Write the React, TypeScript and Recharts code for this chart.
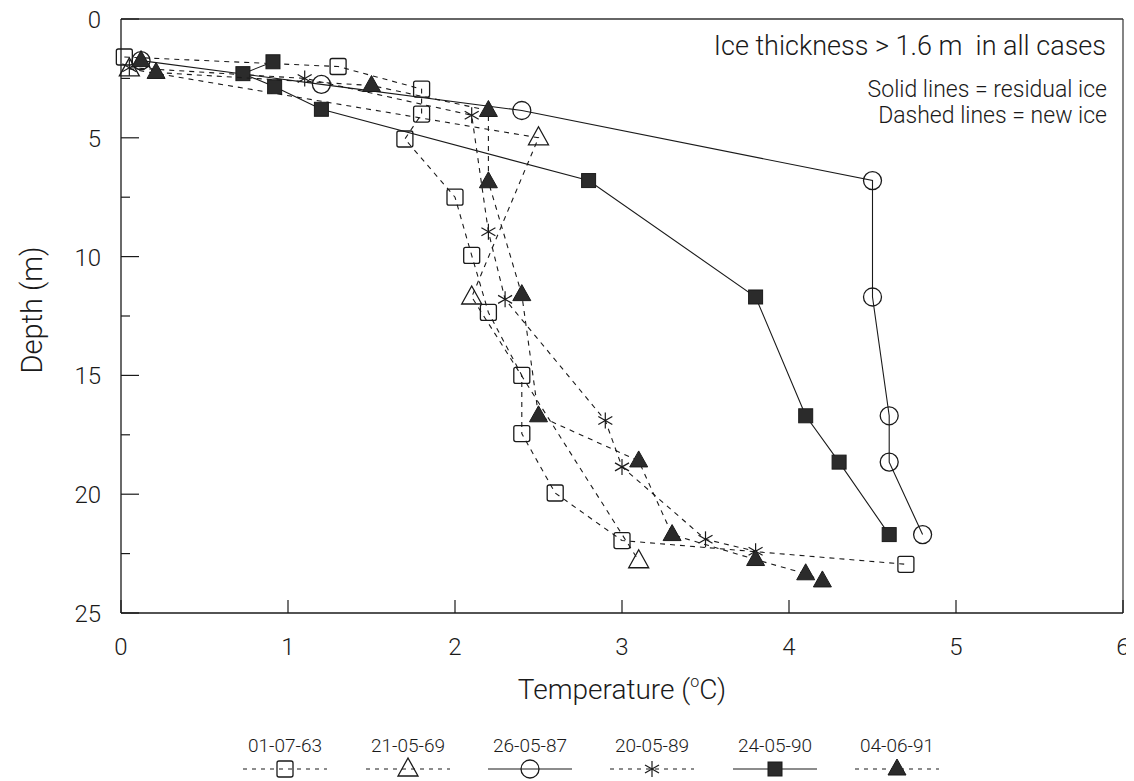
import React from 'react';
import { ScatterChart, Scatter, XAxis, YAxis, ReferenceLine } from 'recharts';

// temperature (t, °C) against depth (d, m)
const profile630701 = [
  { t: 0.02, d: 1.6 }, { t: 1.3, d: 2.0 }, { t: 1.8, d: 2.95 }, { t: 1.8, d: 4.0 },
  { t: 1.7, d: 5.05 }, { t: 2.0, d: 7.5 }, { t: 2.1, d: 9.95 }, { t: 2.2, d: 12.35 },
  { t: 2.4, d: 15.0 }, { t: 2.4, d: 17.45 }, { t: 2.6, d: 19.95 }, { t: 3.0, d: 21.95 },
  { t: 4.7, d: 22.95 },
];
const profile690521 = [
  { t: 0.05, d: 2.1 }, { t: 2.5, d: 5.0 }, { t: 2.1, d: 11.7 }, { t: 3.1, d: 22.8 },
];
const profile870526 = [
  { t: 0.12, d: 1.75 }, { t: 1.2, d: 2.75 }, { t: 2.4, d: 3.85 }, { t: 4.5, d: 6.8 },
  { t: 4.5, d: 11.7 }, { t: 4.6, d: 16.7 }, { t: 4.6, d: 18.65 }, { t: 4.8, d: 21.7 },
];
const profile890520 = [
  { t: 0.05, d: 2.05 }, { t: 1.1, d: 2.5 }, { t: 2.1, d: 4.05 }, { t: 2.2, d: 8.95 },
  { t: 2.3, d: 11.8 }, { t: 2.9, d: 16.9 }, { t: 3.0, d: 18.85 }, { t: 3.5, d: 21.9 },
  { t: 3.8, d: 22.4 },
];
const profile900524 = [
  { t: 0.91, d: 1.8 }, { t: 0.73, d: 2.3 }, { t: 0.92, d: 2.85 }, { t: 1.2, d: 3.8 },
  { t: 2.8, d: 6.8 }, { t: 3.8, d: 11.7 }, { t: 4.1, d: 16.7 }, { t: 4.3, d: 18.65 },
  { t: 4.6, d: 21.7 },
];
const profile910604 = [
  { t: 0.12, d: 1.75 }, { t: 0.21, d: 2.25 }, { t: 1.5, d: 2.8 }, { t: 2.2, d: 3.85 },
  { t: 2.2, d: 6.85 }, { t: 2.4, d: 11.6 }, { t: 2.5, d: 16.7 }, { t: 3.1, d: 18.6 },
  { t: 3.3, d: 21.7 }, { t: 3.8, d: 22.75 }, { t: 4.1, d: 23.35 }, { t: 4.2, d: 23.65 },
];

const legendLabels = ['01-07-63', '21-05-69', '26-05-87', '20-05-89', '24-05-90', '04-06-91'];
const tempTicks = [0, 1, 2, 3, 4, 5, 6];
const depthTicks = [0, 2.5, 5, 7.5, 10, 12.5, 15, 17.5, 20, 22.5, 25];

const INK = '#1a1a1a';
const FILL = '#2b2b2b';
const FONT = "Roboto, 'Liberation Sans', Arial, sans-serif";
const DASH = '5 5';

const openSquare = ({ cx, cy }: any) => (
  <rect x={cx - 8} y={cy - 8} width={16} height={16} rx={2} fill="none" stroke={INK} strokeWidth={1.3} />
);
const openTriangle = ({ cx, cy }: any) => (
  <polygon points={`${cx},${cy - 11} ${cx - 10},${cy + 7} ${cx + 10},${cy + 7}`} fill="none" stroke={INK} strokeWidth={1.3} />
);
const openCircle = ({ cx, cy }: any) => (
  <circle cx={cx} cy={cy} r={9} fill="none" stroke={INK} strokeWidth={1.3} />
);
const asterisk = ({ cx, cy }: any) => (
  <g stroke={INK} strokeWidth={1.2}>
    <line x1={cx} y1={cy - 8} x2={cx} y2={cy + 8} />
    <line x1={cx - 7} y1={cy - 4} x2={cx + 7} y2={cy + 4} />
    <line x1={cx - 7} y1={cy + 4} x2={cx + 7} y2={cy - 4} />
  </g>
);
const filledSquare = ({ cx, cy }: any) => (
  <rect x={cx - 7} y={cy - 7} width={14} height={14} fill={FILL} stroke={INK} strokeWidth={1} />
);
const filledTriangle = ({ cx, cy }: any) => (
  <polygon points={`${cx},${cy - 10} ${cx - 9},${cy + 6} ${cx + 9},${cy + 6}`} fill={FILL} stroke={INK} strokeWidth={1} />
);

const seriesList = [
  { data: profile630701, shape: openSquare, dash: DASH },
  { data: profile690521, shape: openTriangle, dash: DASH },
  { data: profile870526, shape: openCircle, dash: undefined },
  { data: profile890520, shape: asterisk, dash: DASH },
  { data: profile900524, shape: filledSquare, dash: undefined },
  { data: profile910604, shape: filledTriangle, dash: DASH },
];

const XTick = (props: any) => {
  const { x, y, payload } = props;
  return (
    <g>
      <line x1={x} y1={y} x2={x} y2={y - 13} stroke={INK} strokeWidth={1.2} />
      <text x={x} y={y + 42} textAnchor="middle" fontSize={24} fontWeight={300} fontFamily={FONT} fill={INK}>
        {payload.value}
      </text>
    </g>
  );
};

const YTick = (props: any) => {
  const { x, y, payload } = props;
  const major = payload.value % 5 === 0;
  return (
    <g>
      <line x1={x} y1={y} x2={x + (major ? 18 : 9)} y2={y} stroke={INK} strokeWidth={1.2} />
      {major && (
        <text x={x - 20} y={y + 9} textAnchor="end" fontSize={24} fontWeight={300} fontFamily={FONT} fill={INK}>
          {payload.value}
        </text>
      )}
    </g>
  );
};

const XTitle = ({ viewBox }: any) => (
  <text x={viewBox.x + viewBox.width / 2} y={viewBox.y + 86} textAnchor="middle" fontSize={28} fontWeight={300} fontFamily={FONT} fill={INK}>
    Temperature (
    <tspan fontSize={16} dy={-12}>o</tspan>
    <tspan dy={12}>C)</tspan>
  </text>
);

const YTitle = ({ viewBox }: any) => {
  const cx = 42;
  const cy = viewBox.y + viewBox.height / 2 - 6;
  return (
    <text x={cx} y={cy} transform={`rotate(-90 ${cx} ${cy})`} textAnchor="middle" fontSize={29} fontWeight={300} fontFamily={FONT} fill={INK}>
      Depth (m)
    </text>
  );
};

const legendX = [285, 408, 530, 652, 775, 897];

export default function App() {
  return (
    <div style={{ position: 'relative', width: 1134, height: 781, margin: '-8px 0 0 -8px', background: '#fff' }}>
      <ScatterChart width={1134} height={708} margin={{ top: 19, right: 11, left: 0, bottom: 0 }}>
        <XAxis
          type="number"
          dataKey="t"
          domain={[0, 6]}
          ticks={tempTicks}
          interval={0}
          tickSize={0}
          tickMargin={0}
          tick={<XTick />}
          height={95}
          axisLine={{ stroke: INK, strokeWidth: 1.3 }}
          label={{ content: <XTitle /> }}
        />
        <YAxis
          type="number"
          dataKey="d"
          domain={[0, 25]}
          reversed
          ticks={depthTicks}
          interval={0}
          tickSize={0}
          tickMargin={0}
          tick={<YTick />}
          width={121}
          axisLine={{ stroke: INK, strokeWidth: 1.3 }}
          label={{ content: <YTitle /> }}
        />
        <ReferenceLine y={0} stroke="#333" strokeWidth={1.6} />
        <ReferenceLine x={6} stroke="#333" strokeWidth={1.2} />
        {seriesList.map((s, i) => (
          <Scatter
            key={i}
            data={s.data}
            shape={s.shape}
            line={{ stroke: INK, strokeWidth: 1.1, strokeDasharray: s.dash }}
            lineType="joint"
            isAnimationActive={false}
          />
        ))}
        <text x={1106} y={55} textAnchor="end" fontSize={27} fontWeight={300} fontFamily={FONT} fill={INK} style={{ whiteSpace: 'pre' }}>
          Ice thickness &gt; 1.6 m  in all cases
        </text>
        <text x={1107} y={97} textAnchor="end" fontSize={23} fontWeight={300} fontFamily={FONT} fill={INK}>
          Solid lines = residual ice
        </text>
        <text x={1107} y={123} textAnchor="end" fontSize={23} fontWeight={300} fontFamily={FONT} fill={INK}>
          Dashed lines = new ice
        </text>
      </ScatterChart>
      <svg width={1134} height={73} style={{ position: 'absolute', left: 0, top: 708 }}>
        {legendLabels.map((label, i) => {
          const cx = legendX[i];
          const s = seriesList[i];
          return (
            <g key={label}>
              <text x={cx} y={44} textAnchor="middle" fontSize={19} fontWeight={300} fontFamily={FONT} fill={INK}>
                {label}
              </text>
              <line x1={cx - 42} y1={61} x2={cx + 42} y2={61} stroke={INK} strokeWidth={1.1} strokeDasharray={s.dash ? '4 5' : undefined} />
              {s.shape({ cx, cy: 61 })}
            </g>
          );
        })}
      </svg>
    </div>
  );
}
